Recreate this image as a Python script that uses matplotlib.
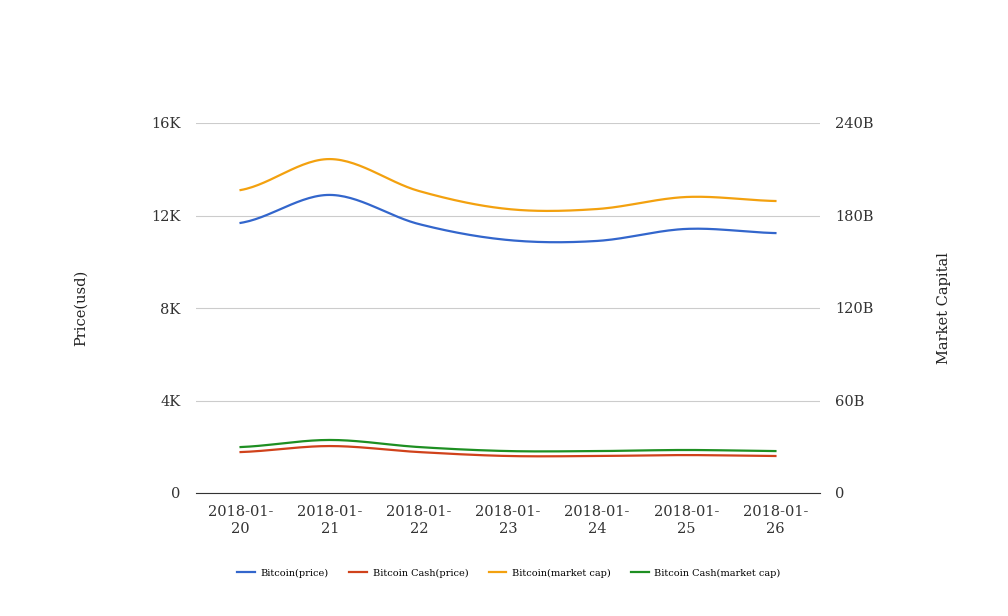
import numpy as np
import matplotlib
matplotlib.use("Agg")
from matplotlib import pyplot as plt
from matplotlib.ticker import FuncFormatter

## Data
dates = ['2018-01-\n20', '2018-01-\n21', '2018-01-\n22', '2018-01-\n23',
         '2018-01-\n24', '2018-01-\n25', '2018-01-\n26']
btc_price = [11680, 12890, 11630, 10940, 10900, 11420, 11240]
bch_price = [1770, 2030, 1770, 1600, 1600, 1640, 1600]
btc_cap = [196.5e9, 216.6e9, 195.9e9, 184.2e9, 184.2e9, 192.0e9, 189.4e9]
bch_cap = [29.8e9, 34.4e9, 29.8e9, 27.2e9, 27.2e9, 27.9e9, 27.2e9]

plt.rcParams['font.family'] = ['DejaVu Serif']

# Catmull-Rom smoothing just for drawing
def smooth(x, y, n=30):
    x = np.asarray(x, float)
    y = np.asarray(y, float)
    px = np.concatenate([[2*x[0]-x[1]], x, [2*x[-1]-x[-2]]])
    py = np.concatenate([[y[0]], y, [y[-1]]])
    xs, ys = [], []
    for i in range(1, len(px)-2):
        t = np.linspace(0, 1, n, endpoint=False)
        for arr, out in ((px, xs), (py, ys)):
            p0, p1, p2, p3 = arr[i-1], arr[i], arr[i+1], arr[i+2]
            out.extend(0.5*((2*p1) + (-p0+p2)*t + (2*p0-5*p1+4*p2-p3)*t**2
                            + (-p0+3*p1-3*p2+p3)*t**3))
    xs.append(x[-1])
    ys.append(y[-1])
    return np.array(xs), np.array(ys)

fig = plt.figure(figsize=(10.08, 6.16), dpi=100)
ax = fig.add_axes([196/1008, 123/616, 624/1008, 370/616])
ax2 = ax.twinx()

x = np.arange(len(dates))
colors = ['#3366cc', '#d0421b', '#f3a10f', '#1e8f22']

l1, = ax.plot(*smooth(x, btc_price), color=colors[0], lw=1.6, label='Bitcoin(price)')
l2, = ax.plot(*smooth(x, bch_price), color=colors[1], lw=1.6, label='Bitcoin Cash(price)')
l3, = ax2.plot(*smooth(x, btc_cap), color=colors[2], lw=1.6, label='Bitcoin(market cap)')
l4, = ax2.plot(*smooth(x, bch_cap), color=colors[3], lw=1.6, label='Bitcoin Cash(market cap)')

ax.set_xlim(-0.5, len(dates)-0.5)
ax.set_ylim(0, 16000)
ax2.set_ylim(0, 240e9)
ax.set_yticks([0, 4000, 8000, 12000, 16000])
ax2.set_yticks([0, 60e9, 120e9, 180e9, 240e9])
ax.yaxis.set_major_formatter(FuncFormatter(lambda v, p: '0' if v == 0 else '%dK' % (v/1000)))
ax2.yaxis.set_major_formatter(FuncFormatter(lambda v, p: '0' if v == 0 else '%dB' % (v/1e9)))
ax.set_xticks(x)
ax.set_xticklabels(dates)

ax.grid(axis='y', color='#cccccc', lw=0.8)
ax.set_axisbelow(True)
for a in (ax, ax2):
    for s in ('top', 'left', 'right', 'bottom'):
        a.spines[s].set_visible(False)
ax.spines['bottom'].set_visible(True)
ax.spines['bottom'].set_color('#333333')
ax.tick_params(axis='y', length=0, labelsize=10.5, colors='#333333', pad=11)
ax.tick_params(axis='x', length=0, labelsize=10.5, colors='#333333', pad=9)
ax2.tick_params(axis='y', length=0, labelsize=10.5, colors='#333333', pad=11)

ax.set_ylabel('Price(usd)', fontsize=10.5, color='#222222')
ax.yaxis.set_label_coords(-(196-88)/624, 0.5)
ax2.set_ylabel('Market Capital', fontsize=10.5, color='#222222')
ax2.yaxis.set_label_coords((937-196)/624, 0.5)

fig.legend(handles=[l1, l2, l3, l4], loc='center', bbox_to_anchor=(509/1008, 1-573/616),
           ncol=4, frameon=False, fontsize=7, handlelength=1.8, columnspacing=2.1,
           handletextpad=0.6)

fig.savefig('out.png', dpi=100)
